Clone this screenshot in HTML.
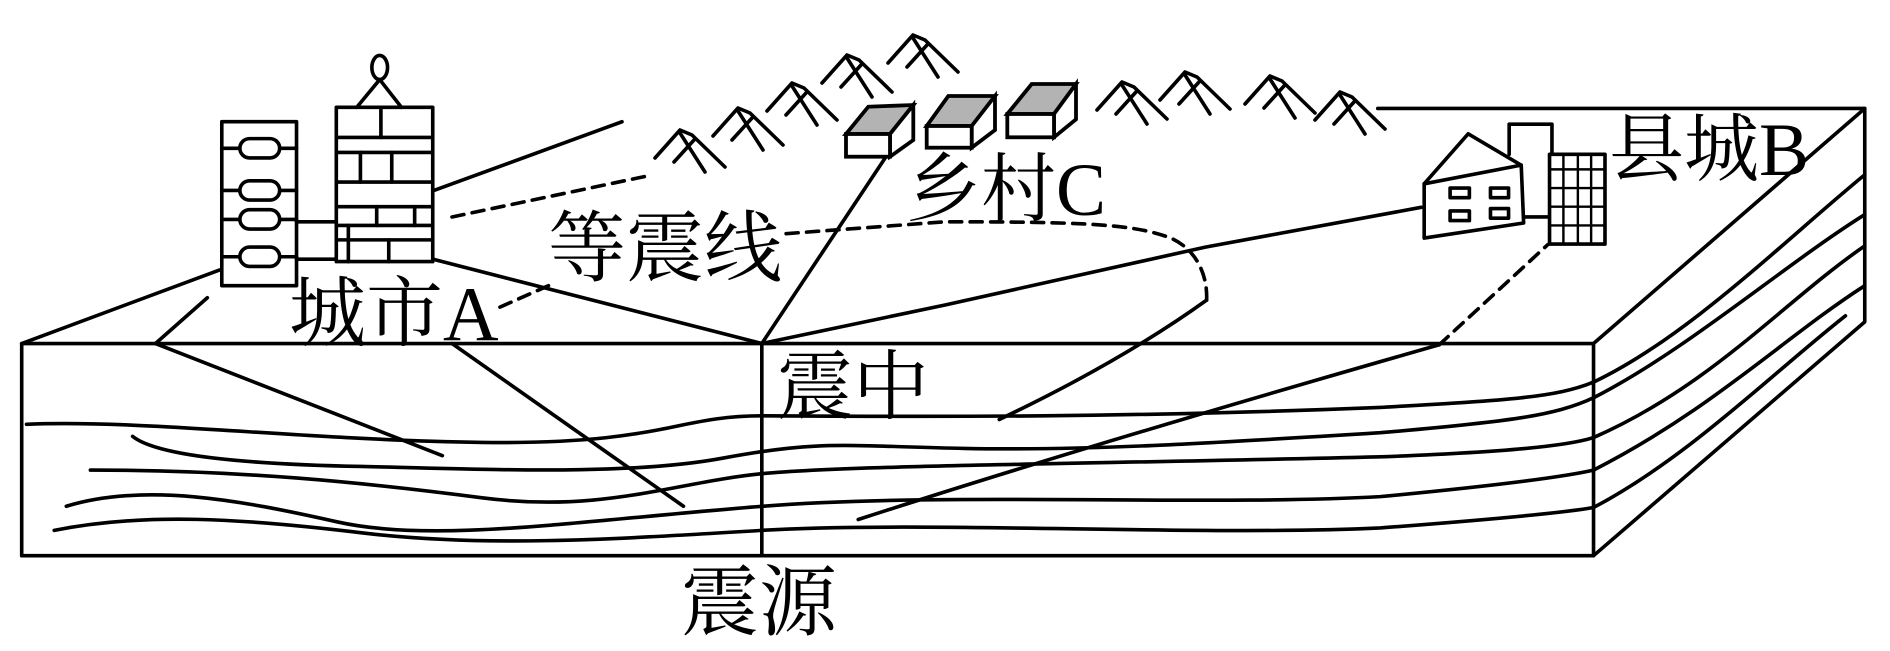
<!DOCTYPE html>
<html><head><meta charset="utf-8"><style>
html,body{margin:0;padding:0;background:#fff;}
svg{display:block;}
text{font-family:"Liberation Serif","Noto Serif CJK SC",serif;fill:#000;}
</style></head><body>
<svg width="1890" height="651" viewBox="0 0 1890 651" xmlns="http://www.w3.org/2000/svg">
<g transform="scale(1.2054)" fill="none" stroke="#000" stroke-width="3" stroke-linejoin="round" stroke-linecap="round">
  <rect x="18" y="285" width="1304" height="176"/>
  <line x1="632" y1="285" x2="632" y2="461"/>
  <polyline points="1322,285 1547,90 1547,267 1322,461"/>
  <line x1="1143" y1="90" x2="1547" y2="90"/>
  <line x1="18" y1="285" x2="182" y2="224"/>
  <line x1="129" y1="285" x2="172" y2="247"/>
  <line x1="359" y1="215" x2="632" y2="285"/>
  <line x1="360" y1="158" x2="516" y2="101"/>
  <line x1="632" y1="285" x2="735" y2="130"/>
  <polyline points="632,285 784,253 1000,205 1179,172"/>
  <path d="M22,352 C120,348 250,365 400,367 S560,345 632,345 S900,348 1145,338 C1250,332 1290,330 1322,317 C1400,280 1480,200 1547,145"/>
  <path d="M110,362 C130,378 200,385 300,387 S520,395 600,380 S700,370 800,372 S1000,368 1145,359 C1250,350 1290,345 1322,330 C1400,290 1480,220 1547,178"/>
  <path d="M75,390 C200,390 300,400 400,413 S560,400 632,393 S900,385 1145,379 C1250,375 1300,370 1322,363 C1420,320 1480,250 1547,204"/>
  <path d="M55,420 C120,400 200,415 280,433 S480,432 632,420 S1000,420 1145,412 C1250,402 1300,395 1322,390 C1420,340 1480,280 1547,237"/>
  <path d="M45,440 C120,425 200,430 300,442 S500,448 632,440 S1000,445 1145,438 C1250,430 1300,425 1322,421 C1400,380 1470,310 1531,262"/>
  <line x1="129" y1="285" x2="367" y2="378"/>
  <line x1="375" y1="285" x2="567" y2="420"/>
  <path d="M712,431 Q900,370 1194,286"/>
  <path d="M829,348 Q930,300 1001,249"/>
  <g stroke-dasharray="10,7">
    <path d="M1194,286 L1284,203"/>
    <path d="M1001,249 C1002,225 990,205 970,197 C940,186 900,184 784,184 L650,194"/>
    <path d="M455,237 L412,256"/>
    <path d="M375,180 L537,146"/>
  </g>
  <rect x="184" y="101" width="62" height="136" fill="#fff"/>
  <line x1="184" y1="123" x2="246" y2="123"/><line x1="184" y1="158" x2="246" y2="158"/>
  <line x1="184" y1="182" x2="246" y2="182"/><line x1="184" y1="213" x2="246" y2="213"/>
  <g fill="#fff">
    <rect x="199" y="115" width="33" height="16" rx="8"/>
    <rect x="199" y="150" width="33" height="16" rx="8"/>
    <rect x="199" y="174" width="33" height="16" rx="8"/>
    <rect x="199" y="205" width="33" height="16" rx="8"/>
  </g>
  <line x1="246" y1="184" x2="279" y2="184"/><line x1="246" y1="215" x2="279" y2="215"/>
  <rect x="279" y="89" width="80" height="128" fill="#fff"/>
  <line x1="279" y1="114" x2="359" y2="114"/><line x1="279" y1="126.5" x2="359" y2="126.5"/>
  <line x1="279" y1="151" x2="359" y2="151"/><line x1="279" y1="171.5" x2="359" y2="171.5"/>
  <line x1="279" y1="187" x2="359" y2="187"/><line x1="279" y1="199" x2="359" y2="199"/>
  <line x1="316" y1="89" x2="316" y2="114"/>
  <line x1="299" y1="126.5" x2="299" y2="151"/><line x1="325" y1="126.5" x2="325" y2="151"/>
  <line x1="312.5" y1="171.5" x2="312.5" y2="187"/><line x1="344" y1="171.5" x2="344" y2="187"/>
  <line x1="289" y1="187" x2="289" y2="217"/><line x1="322.5" y1="199" x2="322.5" y2="217"/>
  <polyline points="296,89 315,66 333,89"/>
  <ellipse cx="315" cy="56" rx="6.5" ry="10"/>
  <polygon points="1181.5,152.5 1218,111 1262,137 1264,185 1181.5,197.5" fill="#fff"/>
  <line x1="1181.5" y1="152.5" x2="1262" y2="137"/>
  <rect x="1203" y="156" width="16" height="8"/><rect x="1236.5" y="156" width="15" height="8"/>
  <rect x="1203" y="175" width="16" height="8"/><rect x="1236.5" y="173" width="15" height="8"/>
  <polyline points="1252,128 1252,103 1287.5,103 1287.5,128"/>
  <line x1="1264" y1="180" x2="1285.5" y2="180"/>
  <rect x="1285.5" y="128" width="46" height="74.5" fill="#fff"/>
  <g stroke-width="2">
    <line x1="1297" y1="128" x2="1297" y2="202.5"/><line x1="1309" y1="128" x2="1309" y2="202.5"/><line x1="1320" y1="128" x2="1320" y2="202.5"/>
    <line x1="1285.5" y1="140.5" x2="1331.5" y2="140.5"/><line x1="1285.5" y1="156" x2="1331.5" y2="156"/>
    <line x1="1285.5" y1="171.5" x2="1331.5" y2="171.5"/><line x1="1285.5" y1="187" x2="1331.5" y2="187"/>
  </g>
</g>
<g fill="none" stroke="#000" stroke-width="3.6" stroke-linecap="round" stroke-linejoin="round">
  <g transform="translate(680,130)"><polyline points="-25,28 0,0 12,5 45,37"/><line x1="0" y1="3" x2="25" y2="42"/><line x1="-6" y1="32" x2="14" y2="10"/></g>
  <g transform="translate(738,108)"><polyline points="-25,28 0,0 12,5 45,37"/><line x1="0" y1="3" x2="25" y2="42"/><line x1="-6" y1="32" x2="14" y2="10"/></g>
  <g transform="translate(792,83)"><polyline points="-25,28 0,0 12,5 45,37"/><line x1="0" y1="3" x2="25" y2="42"/><line x1="-6" y1="32" x2="14" y2="10"/></g>
  <g transform="translate(847,55)"><polyline points="-25,28 0,0 12,5 45,37"/><line x1="0" y1="3" x2="25" y2="42"/><line x1="-6" y1="32" x2="14" y2="10"/></g>
  <g transform="translate(913,35)"><polyline points="-25,28 0,0 12,5 45,37"/><line x1="0" y1="3" x2="25" y2="42"/><line x1="-6" y1="32" x2="14" y2="10"/></g>
  <g transform="translate(1122,82)"><polyline points="-25,28 0,0 12,5 45,37"/><line x1="0" y1="3" x2="25" y2="42"/><line x1="-6" y1="32" x2="14" y2="10"/></g>
  <g transform="translate(1185,72)"><polyline points="-25,28 0,0 12,5 45,37"/><line x1="0" y1="3" x2="25" y2="42"/><line x1="-6" y1="32" x2="14" y2="10"/></g>
  <g transform="translate(1270,76)"><polyline points="-25,28 0,0 12,5 45,37"/><line x1="0" y1="3" x2="25" y2="42"/><line x1="-6" y1="32" x2="14" y2="10"/></g>
  <g transform="translate(1340,92)"><polyline points="-25,28 0,0 12,5 45,37"/><line x1="0" y1="3" x2="25" y2="42"/><line x1="-6" y1="32" x2="14" y2="10"/></g>
</g>
<g stroke="#000" stroke-width="3.8" stroke-linejoin="miter">
  <polygon points="846,134 868.3,106.7 913.3,105 890,134" fill="#b3b3b3"/>
  <polygon points="890,134 913.3,105 913.3,140 890,156.7" fill="#fff"/>
  <rect x="846" y="134" width="44" height="22.7" fill="#fff"/>
  <polygon points="926.7,126 948.3,96 995,96 971.7,126" fill="#b3b3b3"/>
  <polygon points="971.7,126 995,96 995,130 971.7,147.7" fill="#fff"/>
  <rect x="926.7" y="126" width="45" height="21.7" fill="#fff"/>
  <polygon points="1007.3,114 1031.7,84 1076,84 1054,114" fill="#b3b3b3"/>
  <polygon points="1054,114 1076,84 1076,119.3 1054,137.3" fill="#fff"/>
  <rect x="1007.3" y="114" width="46.7" height="23.3" fill="#fff"/>
</g>
<text x="289" y="340" font-size="77">城市A</text>
<text x="548" y="275" font-size="78">等震线</text>
<text x="777" y="413" font-size="76">震中</text>
<text x="681" y="629" font-size="78">震源</text>
<text x="906" y="215" font-size="75">乡村C</text>
<text x="1609" y="175" font-size="75">县城B</text>
</svg>
</body></html>
